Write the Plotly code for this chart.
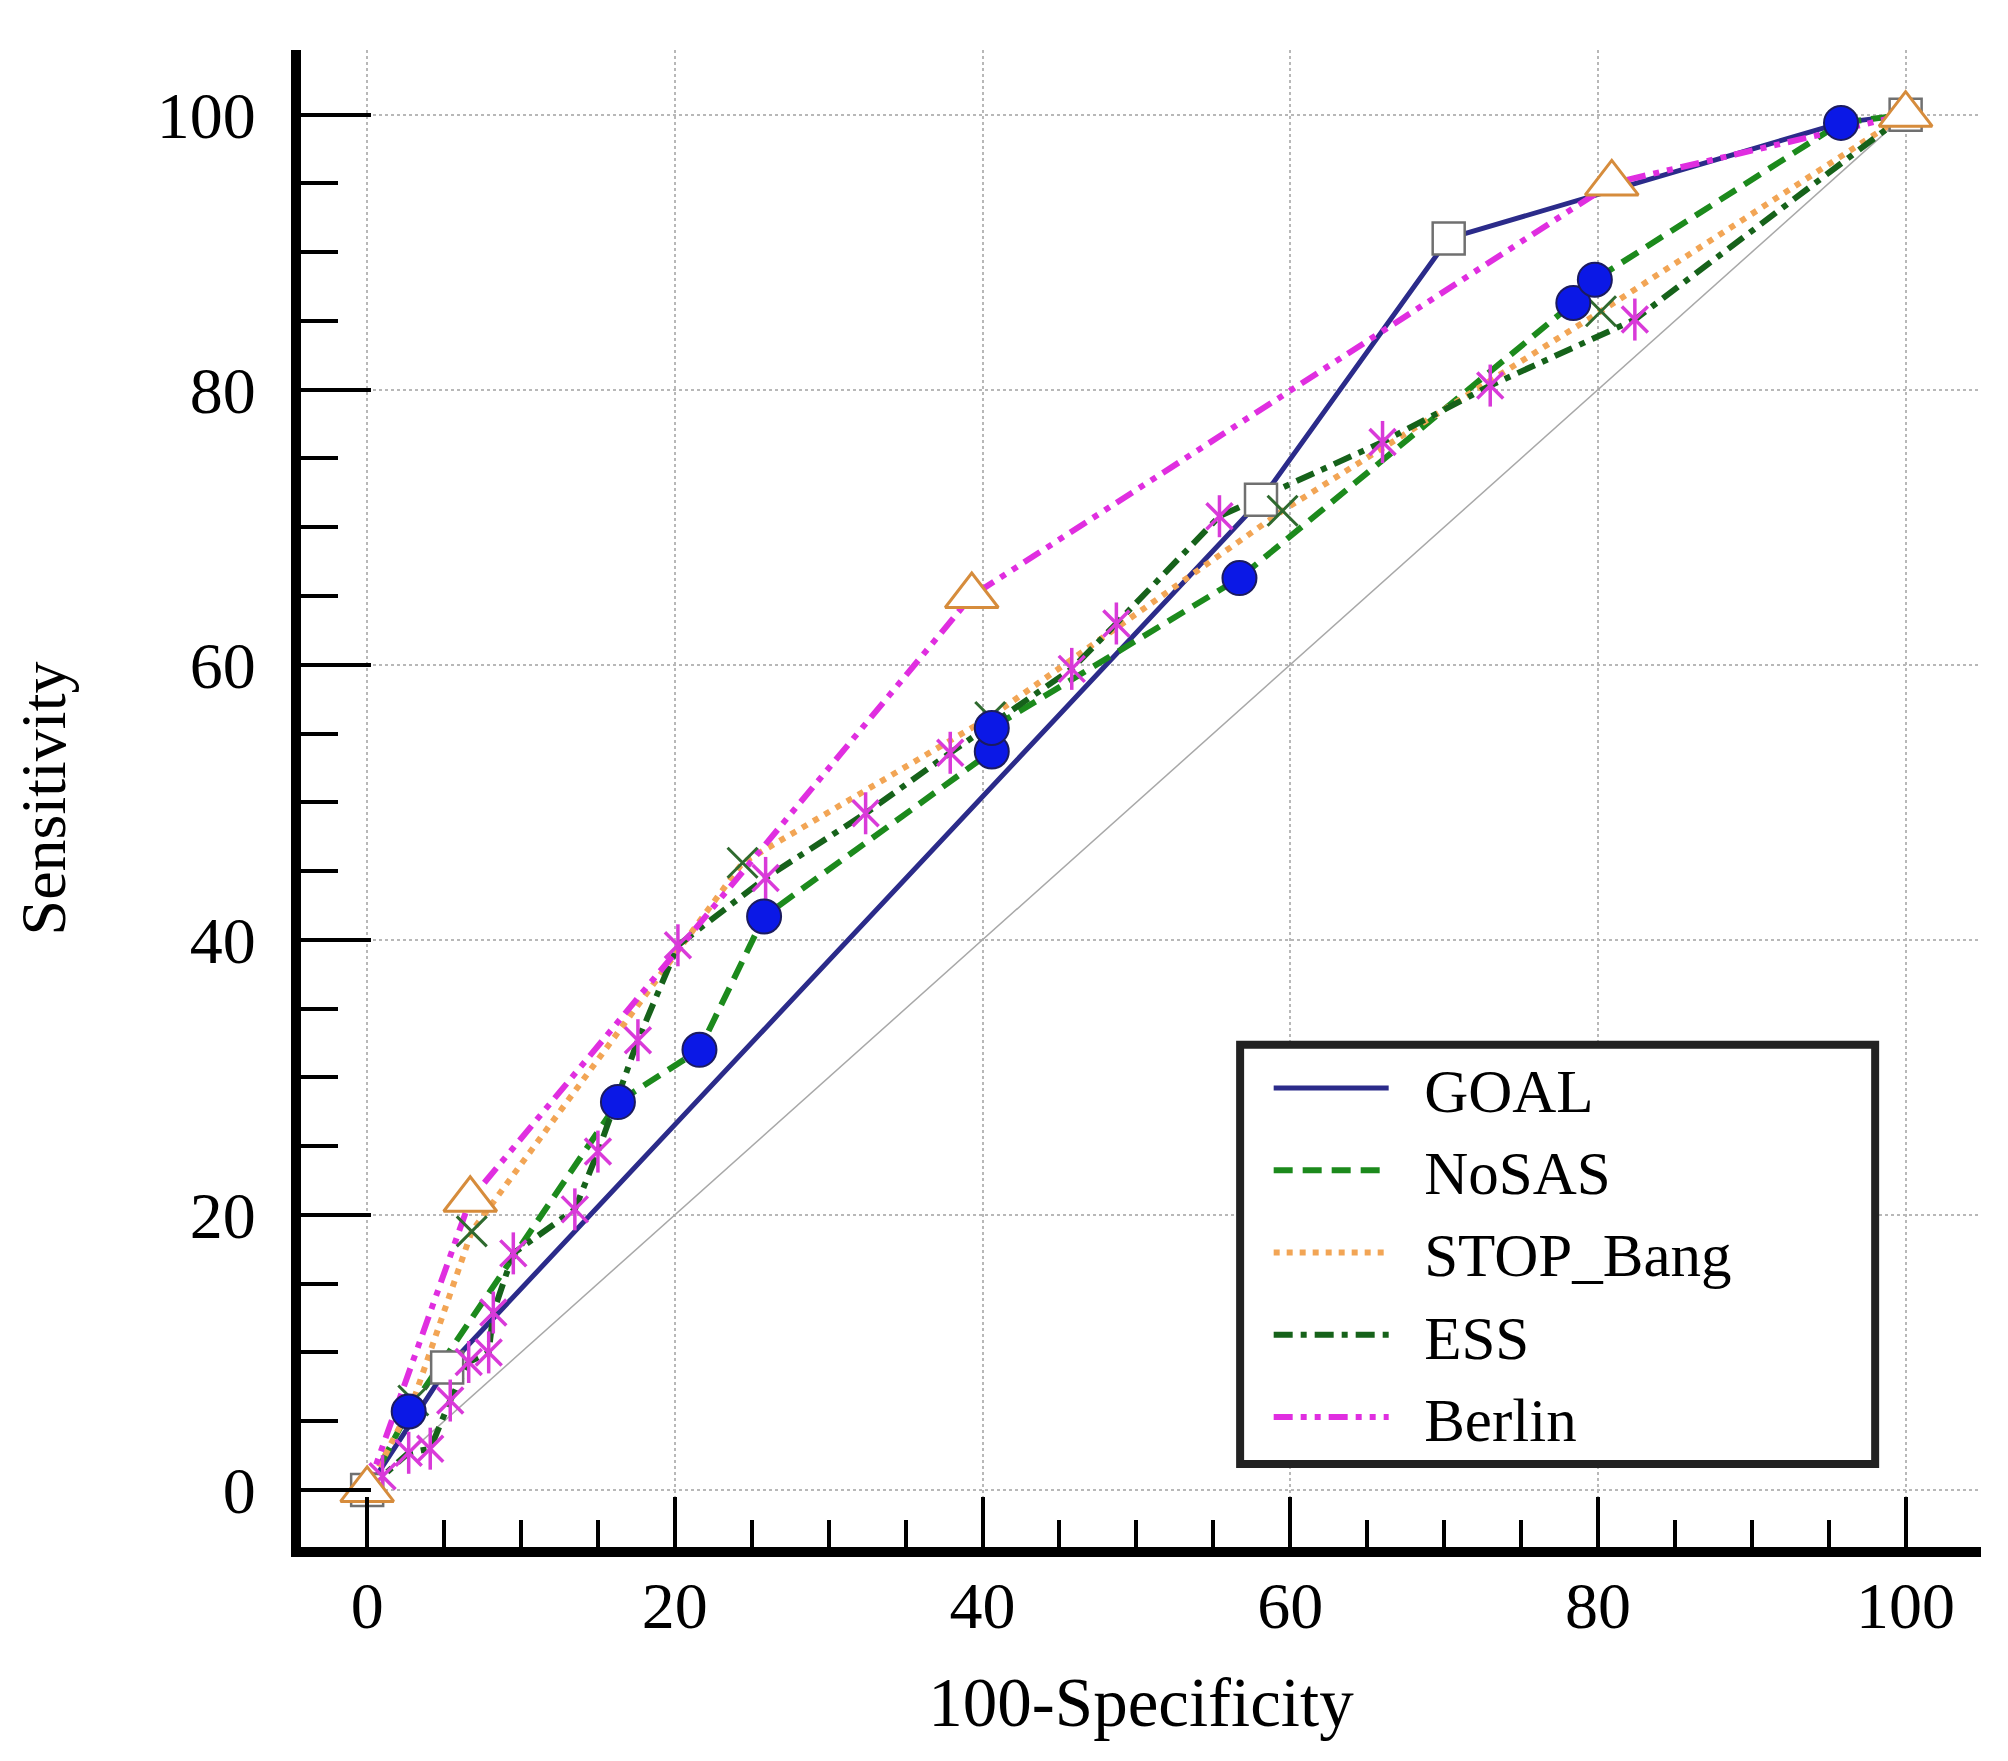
import plotly.graph_objects as go

# ROC points (100-Specificity, Sensitivity)
goal_x = [0, 5.2, 58.1, 70.3, 95.8, 100]
goal_y = [0, 8.9, 72.0, 91.0, 99.4, 100]
goal_marked = [0, 1, 2, 3, 5]   # points that carry a square marker

nosas_x = [0, 2.7, 16.3, 21.6, 25.8, 40.6, 40.6, 56.7, 78.4, 79.8, 95.8, 100]
nosas_y = [0, 5.7, 28.2, 32.0, 41.7, 53.7, 55.4, 66.3, 86.3, 88.0, 99.4, 100]

stop_x = [0, 3.0, 6.8, 24.4, 40.5, 59.5, 80.2, 100]
stop_y = [0, 6.5, 18.8, 45.6, 56.2, 71.2, 85.7, 100]

ess_x = [0, 1.0, 2.7, 4.1, 5.4, 6.6, 7.9, 8.2, 9.5, 13.5, 15.0, 17.6, 20.2,
         25.9, 32.4, 37.9, 45.8, 48.7, 55.4, 66.0, 73.0, 82.4, 100]
ess_y = [0, 1.0, 2.7, 3.0, 6.5, 9.3, 10.0, 12.9, 17.2, 20.4, 24.6, 32.7, 39.6,
         44.5, 49.2, 53.6, 59.7, 63.0, 70.8, 76.2, 80.3, 85.1, 100]

berlin_x = [0, 6.7, 39.3, 80.9, 100]
berlin_y = [0, 21.1, 65.0, 95.0, 100]

diag_x = [0, 100]
diag_y = [0, 100]

tick_vals = [0, 20, 40, 60, 80, 100]
tick_text = ["0", "20", "40", "60", "80", "100"]

FONT = "Liberation Serif"
PAD = "\u00a0\u00a0"   # gap between legend line sample and its label

ESS_PINK = "#d93ad9"
STOP_X_GREEN = "#2f6a2f"

fig = go.Figure()

fig.add_trace(go.Scatter(x=diag_x, y=diag_y, mode="lines", showlegend=False,
                         line=dict(color="#a8a8a8", width=1.5)))

# curves (these make the legend)
fig.add_trace(go.Scatter(x=goal_x, y=goal_y, mode="lines", name=PAD + "GOAL",
                         line=dict(color="#2b2b8a", width=5)))
fig.add_trace(go.Scatter(x=nosas_x, y=nosas_y, mode="lines", name=PAD + "NoSAS",
                         line=dict(color="#1c8a1c", width=6, dash="19px,10px")))
fig.add_trace(go.Scatter(x=stop_x, y=stop_y, mode="lines", name=PAD + "STOP_Bang",
                         line=dict(color="#f2a555", width=6, dash="6px,7px")))
fig.add_trace(go.Scatter(x=ess_x, y=ess_y, mode="lines", name=PAD + "ESS",
                         line=dict(color="#16621a", width=6,
                                   dash="19px,8px,6px,8px")))
fig.add_trace(go.Scatter(x=berlin_x, y=berlin_y, mode="lines", name=PAD + "Berlin",
                         line=dict(color="#e02ee0", width=6,
                                   dash="19px,8px,6px,8px,6px,8px")))

# criterion markers
fig.add_trace(go.Scatter(x=[goal_x[i] for i in goal_marked],
                         y=[goal_y[i] for i in goal_marked],
                         mode="markers", showlegend=False,
                         marker=dict(symbol="square", size=32, color="white",
                                     line=dict(color="#707070", width=2.5))))
fig.add_trace(go.Scatter(x=ess_x[1:-1], y=ess_y[1:-1], mode="markers",
                         showlegend=False,
                         marker=dict(symbol="x-thin-open", size=26, color=ESS_PINK,
                                     line=dict(color=ESS_PINK, width=3.5))))
fig.add_trace(go.Scatter(x=ess_x[1:-1], y=ess_y[1:-1], mode="markers",
                         showlegend=False,
                         marker=dict(symbol="line-ns-open", size=30, color=ESS_PINK,
                                     line=dict(color=ESS_PINK, width=3.5))))
fig.add_trace(go.Scatter(x=stop_x[1:-1], y=stop_y[1:-1], mode="markers",
                         showlegend=False,
                         marker=dict(symbol="x-thin-open", size=30, color=STOP_X_GREEN,
                                     line=dict(color=STOP_X_GREEN, width=3))))
fig.add_trace(go.Scatter(x=nosas_x[1:-1], y=nosas_y[1:-1], mode="markers",
                         showlegend=False,
                         marker=dict(symbol="circle", size=34, color="#0b18e6",
                                     line=dict(color="#1b1b60", width=2))))
fig.add_trace(go.Scatter(x=berlin_x, y=berlin_y, mode="markers",
                         showlegend=False,
                         marker=dict(symbol="triangle-up", size=46, color="white",
                                     line=dict(color="#d68c3c", width=3))))

axis_common = dict(
    showline=True, linewidth=10, linecolor="black",
    ticks="inside", tickwidth=4, tickcolor="black",
    tickvals=tick_vals, ticktext=tick_text,
    tickfont=dict(family=FONT, size=66, color="black"),
    showgrid=True, gridcolor="#b8b8b8", gridwidth=2, griddash="dot",
    zeroline=False,
)

fig.update_xaxes(
    range=[-4.3, 104.9], ticklen=50, ticklabelstandoff=-8,
    minor=dict(dtick=5, tick0=0, ticks="inside", ticklen=27, tickwidth=4,
               tickcolor="black", showgrid=False),
    title=dict(text="100-Specificity", standoff=40,
               font=dict(family=FONT, size=69, color="black")),
    **axis_common,
)
fig.update_yaxes(
    range=[-4.15, 104.7], ticklen=70, ticklabelstandoff=22,
    minor=dict(dtick=5, tick0=0, ticks="inside", ticklen=37, tickwidth=4,
               tickcolor="black", showgrid=False),
    title=dict(text="Sensitivity", standoff=80,
               font=dict(family=FONT, size=64, color="black")),
    **axis_common,
)

# legend frame
fig.add_shape(type="rect", xref="paper", yref="paper",
              x0=0.559, x1=0.937, y0=0.0555, y1=0.3355,
              line=dict(color="#222222", width=8), fillcolor="white",
              layer="above")

fig.update_layout(
    width=2008, height=1761,
    margin=dict(l=293, r=35, t=42, b=222),
    paper_bgcolor="white", plot_bgcolor="white",
    font=dict(family=FONT, color="black"),
    showlegend=True,
    legend=dict(x=0.576, y=0.3375, xanchor="left", yanchor="top",
                bgcolor="rgba(0,0,0,0)", borderwidth=0,
                font=dict(family=FONT, size=61, color="black"),
                itemwidth=115, tracegroupgap=0),
)

fig.write_html("out.html")
